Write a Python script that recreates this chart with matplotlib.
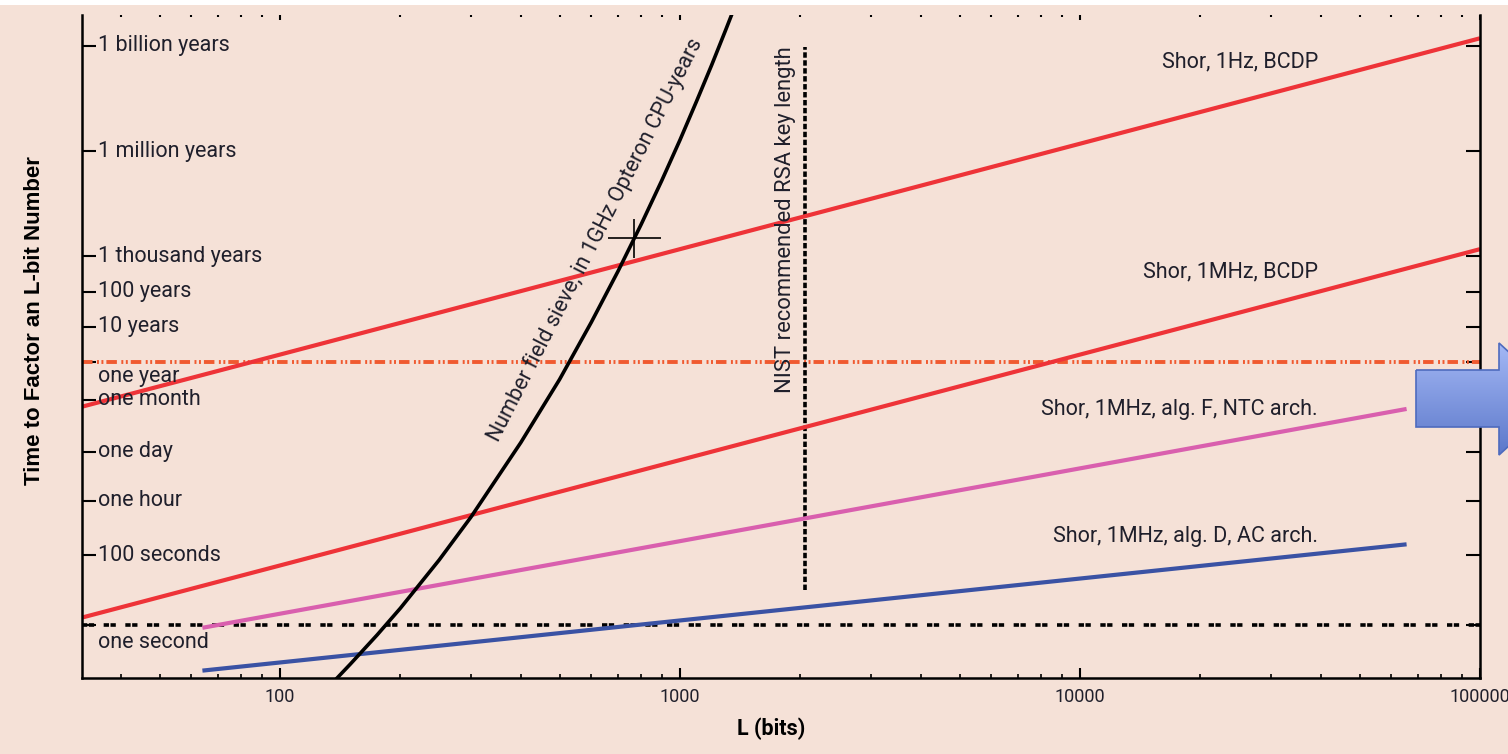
import matplotlib
matplotlib.use("Agg")
import matplotlib.pyplot as plt
import numpy as np
from matplotlib.patches import Polygon, Rectangle
from matplotlib.colors import LinearSegmentedColormap
from matplotlib.ticker import NullLocator, NullFormatter

plt.rcParams['font.family'] = ['Roboto', 'DejaVu Sans']

# ---- data (L in bits, time in seconds) ----
shor_1hz_bits = [32, 100, 1000, 10000, 100000]
shor_1hz_sec = [1.68e6, 5.1e7, 5.1e10, 5.1e13, 5.1e16]

shor_1mhz_bits = [32, 100, 1000, 10000, 100000]
shor_1mhz_sec = [1.68, 51, 5.1e4, 5.1e7, 5.1e10]

alg_f_bits = [64, 1000, 65536]
alg_f_sec = [0.86, 251, 1.45e6]

alg_d_bits = [64, 1000, 65536]
alg_d_sec = [0.052, 1.39, 204]

nfs_bits = [137, 150, 175, 200, 250, 300, 400, 500, 600, 700, 800, 900,
            1000, 1100, 1200, 1300, 1400]
nfs_sec = [0.027, 0.080, 0.54, 3.1, 73, 1.2e3, 1.6e5, 1.0e7, 4.2e8, 1.2e10, 2.6e11,
           4.5e12, 6.5e13, 8.2e14, 8.8e15, 8.6e16, 7.4e17]

rsa768_bits = 768
rsa768_sec = 1.05e11

nist_bits = 2048
nist_span_sec = [10.2, 2.95e16]

one_year_sec = 3.156e7
one_second_sec = 1.0

time_ticks = [3.156e16, 3.156e13, 3.156e10, 3.156e9, 3.156e8, 3.156e7,
              2.63e6, 86400, 3600, 100, 1]
time_labels = ['1 billion years', '1 million years', '1 thousand years', '100 years',
               '10 years', 'one year', 'one month', 'one day', 'one hour',
               '100 seconds', 'one second']
label_drop = {'one year': -10.5, 'one second': -12}

x_ticks = [100, 1000, 10000, 100000]
x_labels = ['100', '1000', '10000', '100000']

BG = '#F5E1D7'
RED = '#EE3338'
TXT = '#1F1F2B'

fig = plt.figure(figsize=(15.08, 7.54), dpi=100, facecolor=BG)
ax = fig.add_axes([82 / 1508, 76 / 754, 1398 / 1508, 663 / 754])
ax.set_facecolor(BG)
ax.set_xscale('log')
ax.set_yscale('log')

# reference lines
ax.axhline(one_year_sec, color='#F05A30', lw=2.8, dashes=(2.7, 1.15, 0.5, 0.65, 0.5, 0.77))
ax.axhline(one_second_sec, color='black', lw=2.6, dashes=(1.47, 0.42, 1.47, 2.64))
ax.plot([nist_bits, nist_bits], nist_span_sec, color='black', lw=2.6, dashes=(1.5, 0.7))

# curves
ax.plot(shor_1hz_bits, shor_1hz_sec, color=RED, lw=3.0, solid_capstyle='butt')
ax.plot(shor_1mhz_bits, shor_1mhz_sec, color=RED, lw=3.0, solid_capstyle='butt')
ax.plot(alg_f_bits, alg_f_sec, color='#D95FAE', lw=3.0, solid_capstyle='butt')
ax.plot(alg_d_bits, alg_d_sec, color='#3A52A4', lw=3.0, solid_capstyle='butt')
ax.plot(nfs_bits, nfs_sec, color='black', lw=2.6)

# RSA-768 cross
xf, yf = 1.165, 3.6
ax.errorbar([rsa768_bits], [rsa768_sec],
            xerr=[[rsa768_bits - rsa768_bits / xf], [rsa768_bits * xf - rsa768_bits]],
            yerr=[[rsa768_sec - rsa768_sec / yf], [rsa768_sec * yf - rsa768_sec]],
            fmt='none', ecolor='black', elinewidth=1.2, capsize=0)

ax.set_xlim(32, 1e5)
ax.set_ylim(10 ** -1.494, 10 ** 17.37)

# axes styling
for s in ['left', 'right', 'bottom']:
    ax.spines[s].set_linewidth(1.8)
ax.spines['top'].set_visible(False)

ax.set_yticks(time_ticks)
ax.yaxis.set_minor_locator(NullLocator())
ax.tick_params(axis='y', which='major', direction='in', length=10, width=1.5,
               left=True, right=True, labelleft=False)

ax.set_xticks(x_ticks, labels=x_labels)
ax.xaxis.set_minor_formatter(NullFormatter())
ax.tick_params(axis='x', which='major', direction='in', length=7, width=1.5,
               top=False, labelsize=13, pad=7, labelcolor=TXT)
ax.tick_params(axis='x', which='minor', direction='in', length=3.2, width=1.2, top=False)

top = ax.secondary_xaxis('top')
top.spines['top'].set_visible(False)
top.set_xticks(x_ticks)
top.tick_params(axis='x', which='major', direction='in', length=3.5, width=1.5, labeltop=False)
top.tick_params(axis='x', which='minor', direction='in', length=1.3, width=1.5)
top.xaxis.set_minor_formatter(NullFormatter())

# y tick labels drawn inside the axes
ytrans = ax.get_yaxis_transform()
for t, lab in zip(time_ticks, time_labels):
    ax.annotate(lab, xy=(0, t), xycoords=ytrans, xytext=(11.5, label_drop.get(lab, 0)),
                textcoords='offset points', ha='left', va='center',
                fontsize=15.5, color=TXT)

# series labels
series_text = [(1.07e16, 'Shor, 1Hz, BCDP'), (1.15e10, 'Shor, 1MHz, BCDP'),
               (1.44e6, 'Shor, 1MHz, alg. F, NTC arch.'), (347, 'Shor, 1MHz, alg. D, AC arch.')]
for yv, lab in series_text:
    ax.text(39360, yv, lab, ha='right', va='center', fontsize=15.5, color=TXT)

ax.text(613, 9.3e10, 'Number field sieve, in 1GHz Opteron CPU-years', rotation=63,
        rotation_mode='anchor', ha='center', va='center', fontsize=15.5, color=TXT)
ax.text(1841, 3.5e11, 'NIST recommended RSA key length', rotation=90,
        ha='center', va='center', fontsize=15.8, color=TXT)

fig.text(35 / 1508, 1 - 321 / 754, 'Time to Factor an L-bit Number', rotation=90,
         ha='center', va='center', fontsize=16, fontweight='bold',
         family=['Liberation Sans', 'DejaVu Sans'], color='black')
fig.text(771 / 1508, 1 - 729 / 754, 'L (bits)', ha='center', va='center',
         fontsize=15.5, fontweight='bold', color='black')

# overlay: slide decorations (top band, blue block arrow)
ov = fig.add_axes([0, 0, 1, 1], zorder=10)
ov.patch.set_alpha(0)
ov.axis('off')
ov.add_patch(Rectangle((0, 0), 1508, 5, facecolor='white', edgecolor='none'))
arrow = Polygon([(1416, 370), (1499, 370), (1499, 343), (1560, 399), (1499, 455),
                 (1499, 427), (1416, 427)], closed=True, facecolor='none',
                edgecolor='#4E6BBE', lw=1.2)
ov.add_patch(arrow)
cmap = LinearSegmentedColormap.from_list('arr', ['#A4B8F5', '#5C78CA'])
img = ov.imshow(np.linspace(0, 1, 100).reshape(-1, 1), cmap=cmap, aspect='auto',
                extent=(1416, 1560, 455, 343), interpolation='bilinear')
img.set_clip_path(arrow)
ov.set_xlim(0, 1508)
ov.set_ylim(754, 0)

fig.savefig('out.png', dpi=100, facecolor=BG)
